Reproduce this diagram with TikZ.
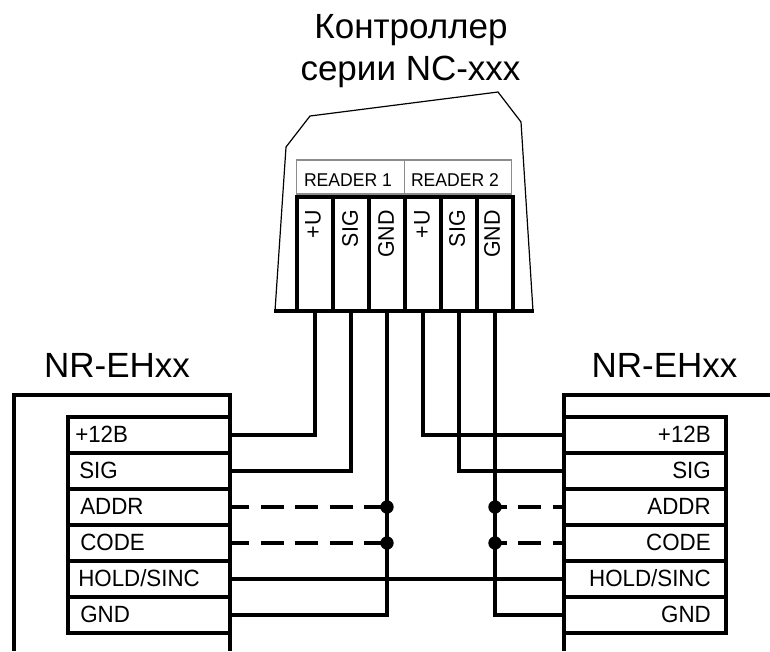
\documentclass[tikz,border=0pt]{standalone}
\usepackage{fontspec}
\setmainfont{Liberation Sans}
\newfontfamily\narrowfont[FakeStretch=0.95]{Liberation Sans}
\newcommand{\pxfont}[1]{\fontsize{\dimexpr #1pt*3/4\relax}{\dimexpr #1pt*9/10\relax}\selectfont}
\tikzset{
  x=0.75pt, y=-0.75pt,
  housing/.style={draw=black, line width=0.9pt, line join=miter},
  bar/.style={draw=black, line width=2.6pt, line cap=butt},
  outer/.style={draw=black, line width=2.7pt, line join=miter},
  pin/.style={draw=black, line width=3pt, rectangle, inner sep=0pt, outer sep=0pt, minimum width=27pt, minimum height=86pt},
  reader/.style={draw=black!45, line width=0.8pt, rectangle, inner sep=0pt, outer sep=0pt, minimum width=80.5pt, minimum height=25.5pt},
  row/.style={draw=black, line width=2.7pt, rectangle, inner sep=0pt, outer sep=0pt, minimum width=121.5pt, minimum height=27pt},
  wire/.style={draw=black, line width=2.5pt, line join=miter},
  dashwire/.style={draw=black, line width=2.5pt, dash pattern=on 17.25pt off 8.6pt},
  dashwirer/.style={draw=black, line width=2.5pt, dash pattern=on 17.25pt off 8.6pt, dash phase=8.25pt},
  junction/.style={circle, fill=black, inner sep=0pt, outer sep=0pt, minimum size=10pt},
  title/.style={font=\pxfont{35}, inner sep=0pt, anchor=base},
  rowtext/.style={font=\narrowfont\pxfont{23.5}, inner sep=0pt},
  readertext/.style={font=\narrowfont\pxfont{18.5}, inner sep=0pt, anchor=base},
  pintext/.style={font=\narrowfont\pxfont{22.5}, inner sep=0pt, rotate=90, anchor=east},
}
\begin{document}
\begin{tikzpicture}
\useasboundingbox (0,0) rectangle (770,651);
% titles
\node[title] (t1) at (411,38) {Контроллер};
\node[title] (t2) at (410.5,80) {серии NC-xxx};
\node[title] (t3) at (117,377) {NR-EHxx};
\node[title] (t4) at (664.5,377) {NR-EHxx};
% controller housing
\draw[housing] (275,311) -- (286,147) -- (310,116) -- (498,92) -- (521,122) -- (533,311);
% reader boxes
\node[reader] (R1box) at (350.5,177) {};
\node[reader] (R2box) at (458,177) {};
\node[readertext] (R1t) at (348,186) {READER 1};
\node[readertext] (R2t) at (455,186) {READER 2};
% terminals
\node[pin] (T1) at (315,254) {};
\node[pin] (T2) at (351,254) {};
\node[pin] (T3) at (387,254) {};
\node[pin] (T4) at (423,254) {};
\node[pin] (T5) at (459,254) {};
\node[pin] (T6) at (495,254) {};
\draw[bar] (274,311) -- (534,311);
\node[pintext] (P1) at (313,210) {+U};
\node[pintext] (P2) at (350,210) {SIG};
\node[pintext] (P3) at (386,210) {GND};
\node[pintext] (P4) at (422,210) {+U};
\node[pintext] (P5) at (457,210) {SIG};
\node[pintext] (P6) at (492,210) {GND};
% left module
\draw[outer] (14,651) -- (14,395) -- (230,395) -- (230,651);
\foreach \n/\y in {1/435,2/471,3/507,4/543,5/579,6/615}{
  \node[row] (L\n) at (149,\y) {};
  \node[row] (R\n) at (645,\y) {};
}
\node[rowtext, anchor=base west] (Lt1) at (75,442) {+12В};
\node[rowtext, anchor=base west] (Lt2) at (79,478) {SIG};
\node[rowtext, anchor=base west] (Lt3) at (80,514) {ADDR};
\node[rowtext, anchor=base west] (Lt4) at (80,550) {CODE};
\node[rowtext, anchor=base west] (Lt5) at (78,586) {HOLD/SINC};
\node[rowtext, anchor=base west] (Lt6) at (80,622) {GND};
% right module
\draw[outer] (770,395) -- (564,395) -- (564,651);
\node[rowtext, anchor=base east] (Rt1) at (711,442) {+12В};
\node[rowtext, anchor=base east] (Rt2) at (711,478) {SIG};
\node[rowtext, anchor=base east] (Rt3) at (711,514) {ADDR};
\node[rowtext, anchor=base east] (Rt4) at (711,550) {CODE};
\node[rowtext, anchor=base east] (Rt5) at (711,586) {HOLD/SINC};
\node[rowtext, anchor=base east] (Rt6) at (711,622) {GND};
% junctions
\node[junction] (J1) at (T3.south |- L3.east) {};
\node[junction] (J2) at (T3.south |- L4.east) {};
\node[junction] (J3) at (T6.south |- R3.west) {};
\node[junction] (J4) at (T6.south |- R4.west) {};
% wires
\draw[wire] (L1.east) -| (T1.south);
\draw[wire] (L2.east) -| (T2.south);
\draw[wire] (L6.east) -| (T3.south);
\draw[wire] (R1.west) -| (T4.south);
\draw[wire] (R2.west) -| (T5.south);
\draw[wire] (R6.west) -| (T6.south);
\draw[wire] (L5.east) -- (R5.west);
\draw[dashwire] (J1.center) -- (L3.east);
\draw[dashwire] (J2.center) -- (L4.east);
\draw[dashwirer] (J3.center) -- (R3.west);
\draw[dashwirer] (J4.center) -- (R4.west);
\end{tikzpicture}
\end{document}
